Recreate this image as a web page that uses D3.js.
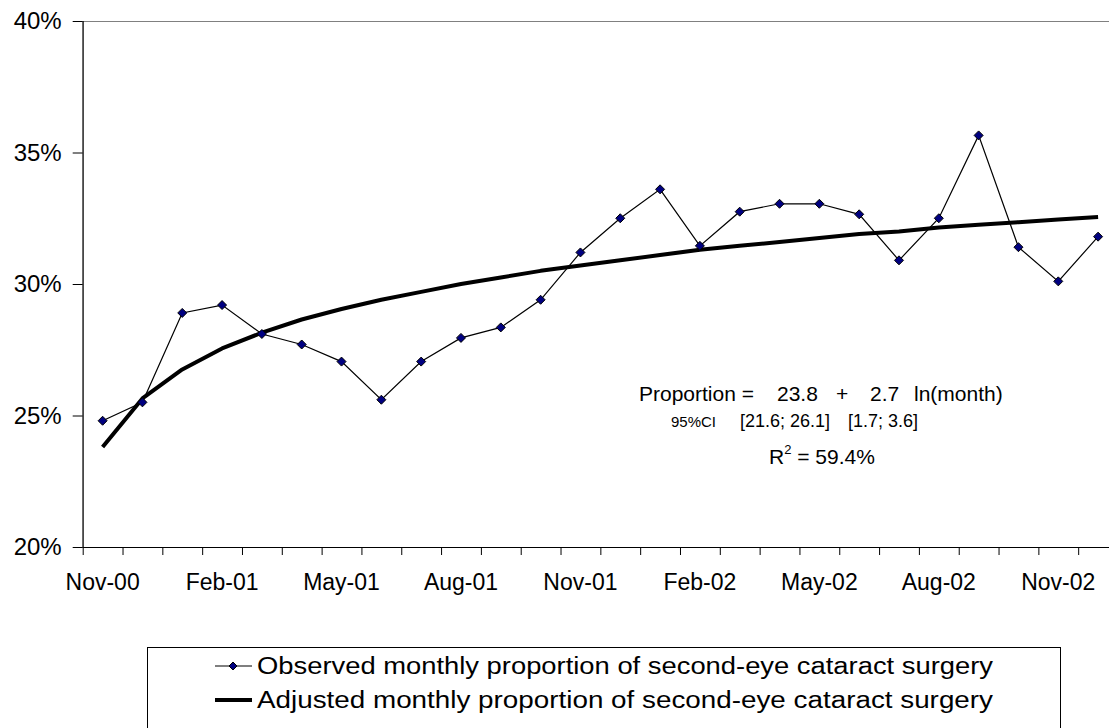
<!DOCTYPE html>
<html>
<head>
<meta charset="utf-8">
<script src="https://cdn.jsdelivr.net/npm/d3@7"></script>
<style>
  body { margin: 0; background: #fff; }
  svg { display: block; font-family: "Liberation Sans", Arial, sans-serif; }
  .axis path, .axis line { stroke: #000; }
  .axis text { fill: #000; font-family: "Liberation Sans", Arial, sans-serif; }
</style>
</head>
<body>
<svg id="chart" width="1109" height="728"></svg>
<script>
// month categories (Nov 2000 .. Dec 2002)
var months = ["Nov-00","Dec-00","Jan-01","Feb-01","Mar-01","Apr-01","May-01","Jun-01","Jul-01","Aug-01",
              "Sep-01","Oct-01","Nov-01","Dec-01","Jan-02","Feb-02","Mar-02","Apr-02","May-02","Jun-02",
              "Jul-02","Aug-02","Sep-02","Oct-02","Nov-02","Dec-02"];
// observed monthly proportion (%)
var observed = [24.8, 25.5, 28.9, 29.2, 28.1, 27.7, 27.05, 25.6, 27.05, 27.95,
                28.35, 29.4, 31.2, 32.5, 33.6, 31.45, 32.75, 33.05, 33.05, 32.65,
                30.9, 32.5, 35.65, 31.4, 30.1, 31.8];
// adjusted (fitted) monthly proportion (%)
var adjusted = [23.8, 25.65, 26.75, 27.55, 28.15, 28.65, 29.05, 29.4, 29.7, 30.0,
                30.25, 30.5, 30.7, 30.9, 31.1, 31.3, 31.45, 31.6, 31.75, 31.9,
                32.0, 32.15, 32.25, 32.35, 32.45, 32.55];
var yTicks = [20, 25, 30, 35, 40];
var xLabels = ["Nov-00","Feb-01","May-01","Aug-01","Nov-01","Feb-02","May-02","Aug-02","Nov-02"];
var legendNames = ["Observed monthly proportion of second-eye cataract surgery",
                   "Adjusted monthly proportion of second-eye cataract surgery"];

var svg = d3.select("#chart");
var plotLeft = 82.7, plotRight = 1118, plotTop = 21, plotBottom = 547;

var x = d3.scaleBand().domain(months).range([plotLeft, plotRight]).paddingInner(0).paddingOuter(0);
var y = d3.scaleLinear().domain([20, 40]).range([plotBottom, plotTop]);
var cx = function(m) { return x(m) + x.bandwidth() / 2; };

// plot area border (grey)
svg.append("rect")
    .attr("x", plotLeft).attr("y", plotTop + 0.5)
    .attr("width", plotRight - plotLeft).attr("height", plotBottom - plotTop)
    .attr("fill", "none").attr("stroke", "#808080").attr("stroke-width", 1);

// y axis
var yAxis = svg.append("g")
    .attr("class", "axis")
    .attr("transform", "translate(" + plotLeft + ",0)")
    .call(d3.axisLeft(y).tickValues(yTicks).tickSize(10).tickPadding(11)
      .tickFormat(function(d) { return d + "%"; }));
yAxis.selectAll("text").attr("font-size", 24);
yAxis.select(".domain").attr("d", "M0.5," + plotTop + "V" + plotBottom);

// x axis: ticks between categories, labels every 3rd month
var xIdx = d3.scaleLinear().domain([0, months.length]).range([plotLeft, plotRight]);
var xAxis = svg.append("g")
    .attr("class", "axis")
    .attr("transform", "translate(0," + plotBottom + ")")
    .call(d3.axisBottom(xIdx).tickValues(d3.range(0, months.length + 1)).tickSize(8).tickFormat(""));
xAxis.select(".domain").attr("d", "M" + plotLeft + ",0.5H" + plotRight);

svg.append("g")
  .selectAll("text")
  .data(xLabels)
  .enter()
  .append("text")
    .attr("x", function(d) { return cx(d); })
    .attr("y", 590)
    .attr("text-anchor", "middle")
    .attr("font-size", 23)
    .text(function(d) { return d; });

// adjusted curve
var fitLine = d3.line()
    .x(function(d, i) { return cx(months[i]); })
    .y(function(d) { return y(d); });

svg.append("path")
    .datum(adjusted)
    .attr("d", fitLine)
    .attr("fill", "none")
    .attr("stroke", "#000")
    .attr("stroke-width", 4)
    .attr("stroke-linejoin", "round");

// observed series
svg.append("path")
    .datum(observed)
    .attr("d", fitLine)
    .attr("fill", "none")
    .attr("stroke", "#000")
    .attr("stroke-width", 1.2);

var diamond = function(px, py, r) {
  return "M" + px + "," + (py - r) + "L" + (px + r) + "," + py + "L" + px + "," + (py + r) + "L" + (px - r) + "," + py + "Z";
};

svg.append("g")
  .selectAll("path")
  .data(observed)
  .enter()
  .append("path")
    .attr("d", function(d, i) { return diamond(cx(months[i]), y(d), 4.5); })
    .attr("fill", "#000080")
    .attr("stroke", "#000")
    .attr("stroke-width", 1);

// regression annotation
var ann = svg.append("g").attr("font-size", 21).attr("fill", "#000");
ann.append("text").attr("x", 639).attr("y", 401).text("Proportion =");
ann.append("text").attr("x", 777).attr("y", 401).text("23.8");
ann.append("text").attr("x", 836).attr("y", 401).text("+");
ann.append("text").attr("x", 870).attr("y", 401).text("2.7");
ann.append("text").attr("x", 914).attr("y", 401).text("ln(month)");
ann.append("text").attr("x", 671).attr("y", 427).attr("font-size", 15).text("95%CI");
ann.append("text").attr("x", 740).attr("y", 427).attr("font-size", 18).text("[21.6; 26.1]");
ann.append("text").attr("x", 848).attr("y", 427).attr("font-size", 18).text("[1.7; 3.6]");
var r2 = ann.append("text").attr("x", 769).attr("y", 464);
r2.append("tspan").text("R");
r2.append("tspan").attr("dy", -10).attr("font-size", 13).text("2");
r2.append("tspan").attr("dy", 10).text(" = 59.4%");

// legend
var legend = svg.append("g");
legend.append("rect")
    .attr("x", 147.5).attr("y", 647.5)
    .attr("width", 913).attr("height", 100)
    .attr("fill", "#fff").attr("stroke", "#000").attr("stroke-width", 1);

var rows = legend.selectAll("g.row")
  .data(legendNames)
  .enter()
  .append("g")
    .attr("class", "row")
    .attr("transform", function(d, i) { return "translate(0," + (666 + i * 34) + ")"; });

rows.append("line")
    .attr("x1", 215).attr("x2", 252)
    .attr("stroke", "#000")
    .attr("stroke-width", function(d, i) { return i == 0 ? 1.2 : 4; });

rows.filter(function(d, i) { return i == 0; })
  .append("path")
    .attr("d", diamond(233, 0, 4))
    .attr("fill", "#000080").attr("stroke", "#000").attr("stroke-width", 1);

rows.append("text")
    .attr("x", 257)
    .attr("y", 8)
    .attr("font-size", 23)
    .attr("textLength", 736)
    .attr("lengthAdjust", "spacingAndGlyphs")
    .text(function(d) { return d; });
</script>
</body>
</html>
